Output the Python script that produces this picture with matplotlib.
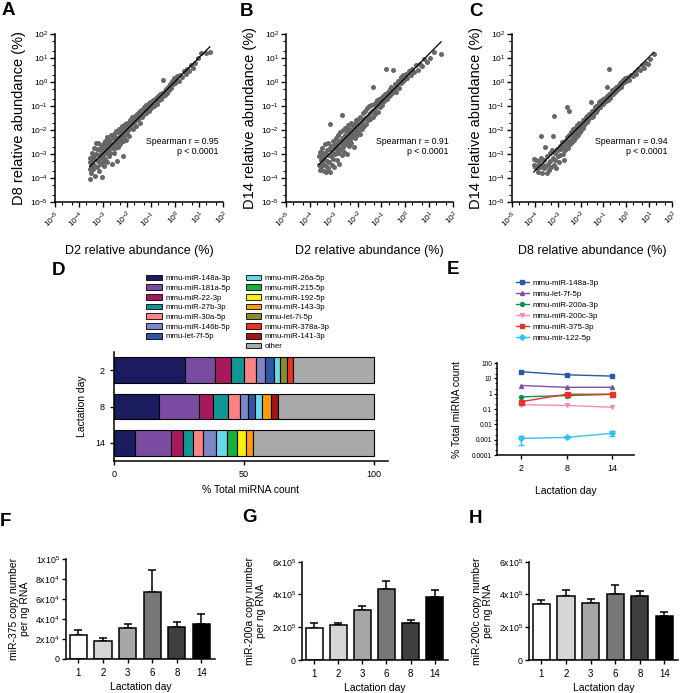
import numpy as np
import matplotlib
matplotlib.use("Agg")
import matplotlib.pyplot as plt
from matplotlib.patches import Patch
from matplotlib.lines import Line2D
from matplotlib.ticker import LogLocator, NullFormatter, FixedLocator

plt.rcParams['font.family'] = ['Liberation Sans', 'DejaVu Sans']
plt.rcParams['mathtext.default'] = 'regular'
plt.rcParams['axes.linewidth'] = 1.1

# ---------------------------------------------------------------
# DATA
# ---------------------------------------------------------------
decades = [-5, -4, -3, -2, -1, 0, 1, 2]

# scatter points as (log10 x, log10 y)
a_points = [
    (-3.55, -3.35), (-3.55, -3.62), (-3.55, -4.05), (-3.53, -3.15), (-3.5, -3.48), (-3.48, -3.8),
    (-3.46, -2.95), (-3.44, -3.3), (-3.42, -3.62), (-3.4, -3.1), (-3.38, -2.75), (-3.36, -3.45),
    (-3.34, -3.9), (-3.32, -3.2), (-3.3, -2.55), (-3.28, -3.0), (-3.26, -3.55), (-3.24, -2.8),
    (-3.22, -3.3), (-3.2, -2.55), (-3.18, -3.05), (-3.16, -3.7), (-3.14, -2.85), (-3.12, -3.4),
    (-3.1, -2.65), (-3.08, -3.15), (-3.06, -3.95), (-3.04, -2.9), (-3.02, -3.35), (-3.0, -2.6),
    (-2.98, -3.05), (-2.96, -2.8), (-2.94, -3.5), (-2.92, -2.45), (-2.9, -3.2), (-2.88, -2.7),
    (-2.86, -2.95), (-2.84, -2.3), (-2.82, -3.35), (-2.8, -2.6), (-2.78, -2.85), (-2.76, -3.1),
    (-2.74, -2.4), (-2.72, -2.7), (-2.7, -2.95), (-2.68, -2.2), (-2.66, -2.55), (-2.64, -3.4),
    (-2.62, -2.75), (-2.6, -2.35), (-2.58, -2.6), (-2.56, -2.95), (-2.54, -2.15), (-2.52, -2.5),
    (-2.5, -2.75), (-2.48, -2.3), (-2.46, -2.05), (-2.44, -2.55), (-2.42, -3.3), (-2.4, -2.35),
    (-2.38, -2.7), (-2.36, -2.1), (-2.34, -2.45), (-2.32, -1.95), (-2.3, -2.25), (-2.28, -2.6),
    (-2.26, -2.0), (-2.24, -2.35), (-2.22, -1.85), (-2.2, -2.15), (-2.18, -3.1), (-2.16, -2.45),
    (-2.14, -1.95), (-2.12, -2.25), (-2.1, -1.75), (-2.08, -2.05), (-2.06, -2.4), (-2.04, -1.85),
    (-2.02, -2.15), (-2.0, -1.7), (-1.97, -2.0), (-1.94, -1.8), (-1.91, -2.25), (-1.88, -1.6),
    (-1.85, -1.9), (-1.82, -1.7), (-1.79, -1.45), (-1.76, -1.95), (-1.73, -1.6), (-1.7, -1.75),
    (-1.67, -1.4), (-1.64, -1.6), (-1.61, -1.85), (-1.58, -1.35), (-1.55, -1.55), (-1.52, -1.25),
    (-1.49, -1.45), (-1.46, -1.7), (-1.43, -1.3), (-1.4, -1.15), (-1.37, -1.45), (-1.34, -1.25),
    (-1.31, -1.05), (-1.28, -1.35), (-1.25, -1.2), (-1.22, -0.95), (-1.19, -1.3), (-1.16, -1.1),
    (-1.13, -0.9), (-1.1, -1.2), (-1.07, -1.0), (-1.04, -0.85), (-1.01, -1.1), (-0.96, -0.95),
    (-0.92, -0.75), (-0.88, -1.0), (-0.84, -0.8), (-0.8, -0.65), (-0.76, -0.9), (-0.72, -0.6),
    (-0.68, -0.75), (-0.64, -0.5), (-0.6, -0.7), (-0.56, -0.45), (-0.52, -0.6), (-0.49, 0.1),
    (-0.46, -0.4), (-0.42, -0.55), (-0.38, -0.3), (-0.34, -0.45), (-0.3, -0.2), (-0.26, -0.35),
    (-0.22, -0.1), (-0.18, -0.25), (-0.14, 0.05), (-0.1, -0.1), (-0.06, 0.15), (-0.02, -0.05),
    (0.04, 0.1), (0.1, 0.25), (0.16, 0.05), (0.22, 0.3), (0.3, 0.2), (0.36, 0.45), (0.44, 0.35),
    (0.5, 0.55), (0.58, 0.45), (0.66, 0.7), (0.74, 0.6), (0.84, 0.8), (0.95, 1.0), (1.08, 1.2),
    (1.3, 1.2), (1.45, 1.25),
]

b_points = [
    (-3.62, -3.1), (-3.6, -3.45), (-3.58, -3.65), (-3.56, -2.9), (-3.54, -3.25), (-3.52, -3.55),
    (-3.5, -2.75), (-3.48, -3.1), (-3.46, -3.4), (-3.44, -2.95), (-3.42, -3.7), (-3.4, -3.2),
    (-3.38, -2.6), (-3.36, -3.0), (-3.34, -3.5), (-3.32, -3.75), (-3.3, -2.85), (-3.28, -3.3),
    (-3.26, -2.55), (-3.24, -3.05), (-3.22, -3.6), (-3.2, -2.8), (-3.18, -3.35), (-3.16, -1.75),
    (-3.14, -3.75), (-3.12, -2.65), (-3.1, -3.1), (-3.08, -3.45), (-3.06, -2.9), (-3.04, -2.45),
    (-3.02, -3.2), (-3.0, -2.75), (-2.98, -3.55), (-2.96, -2.6), (-2.94, -3.0), (-2.92, -2.35),
    (-2.9, -2.8), (-2.88, -3.25), (-2.86, -2.55), (-2.84, -2.95), (-2.82, -2.2), (-2.8, -2.7),
    (-2.78, -3.4), (-2.76, -2.45), (-2.74, -2.85), (-2.72, -2.1), (-2.7, -2.55), (-2.67, -1.36),
    (-2.66, -3.05), (-2.64, -2.35), (-2.62, -2.7), (-2.6, -2.0), (-2.58, -2.5), (-2.56, -2.9),
    (-2.54, -2.2), (-2.52, -1.9), (-2.5, -2.6), (-2.48, -2.35), (-2.46, -3.0), (-2.44, -2.05),
    (-2.42, -2.45), (-2.4, -1.8), (-2.38, -2.25), (-2.36, -2.65), (-2.34, -1.95), (-2.32, -2.4),
    (-2.3, -2.1), (-2.28, -1.7), (-2.26, -2.55), (-2.24, -2.0), (-2.22, -2.3), (-2.2, -1.85),
    (-2.18, -2.15), (-2.16, -2.7), (-2.14, -1.75), (-2.12, -2.05), (-2.1, -2.35), (-2.08, -1.6),
    (-2.06, -1.95), (-2.04, -2.2), (-2.02, -1.75), (-2.0, -2.05), (-1.97, -1.55), (-1.94, -1.85),
    (-1.91, -2.15), (-1.88, -1.45), (-1.85, -1.7), (-1.82, -1.95), (-1.79, -1.3), (-1.76, -1.6),
    (-1.73, -1.85), (-1.7, -1.2), (-1.67, -1.5), (-1.64, -1.75), (-1.61, -1.1), (-1.58, -1.4),
    (-1.55, -1.6), (-1.52, -1.0), (-1.49, -1.3), (-1.46, -1.55), (-1.43, -0.95), (-1.4, -1.2),
    (-1.37, -1.45), (-1.35, -0.2), (-1.33, -0.9), (-1.3, -1.15), (-1.27, -1.35), (-1.24, -0.85),
    (-1.21, -1.05), (-1.18, -0.75), (-1.15, -1.25), (-1.12, -0.95), (-1.09, -0.7), (-1.06, -1.05),
    (-1.03, -0.85), (-1.0, -0.65), (-0.96, -0.95), (-0.92, -0.6), (-0.88, -0.8), (-0.84, -0.5),
    (-0.8, 0.54), (-0.78, -0.7), (-0.74, -0.4), (-0.7, -0.6), (-0.66, -0.3), (-0.62, -0.55),
    (-0.58, -0.2), (-0.54, -0.45), (-0.51, 0.51), (-0.48, -0.3), (-0.44, -0.1), (-0.4, -0.4),
    (-0.36, -0.15), (-0.32, 0.05), (-0.28, -0.25), (-0.24, 0.1), (-0.2, -0.05), (-0.16, 0.2),
    (-0.12, 0.0), (-0.08, 0.3), (-0.04, 0.1), (0.02, 0.35), (0.08, 0.15), (0.15, 0.45),
    (0.22, 0.3), (0.3, 0.55), (0.38, 0.4), (0.45, 0.7), (0.52, 0.5), (0.6, 0.75), (0.7, 0.65),
    (0.8, 0.95), (0.92, 0.85), (1.05, 1.0), (1.2, 1.25), (1.5, 1.15),
]

c_points = [
    (-4.05, -3.2), (-4.02, -3.45), (-3.98, -3.55), (-3.95, -3.25), (-3.92, -3.6), (-3.88, -3.45),
    (-3.85, -3.75), (-3.82, -3.3), (-3.78, -3.55), (-3.75, -3.15), (-3.71, -2.26), (-3.7, -3.8),
    (-3.66, -3.45), (-3.62, -3.6), (-3.58, -3.25), (-3.54, -2.7), (-3.52, -3.5), (-3.48, -3.8),
    (-3.45, -3.1), (-3.42, -3.4), (-3.38, -3.65), (-3.35, -2.95), (-3.32, -3.3), (-3.28, -3.55),
    (-3.25, -2.85), (-3.22, -3.15), (-3.19, -2.26), (-3.18, -3.45), (-3.15, -1.4), (-3.14, -2.95),
    (-3.1, -3.25), (-3.06, -3.6), (-3.04, -2.8), (-3.0, -3.1), (-2.97, -2.85), (-2.94, -3.35),
    (-2.91, -2.65), (-2.88, -3.05), (-2.85, -2.8), (-2.82, -2.5), (-2.79, -3.0), (-2.76, -2.7),
    (-2.73, -3.25), (-2.7, -2.45), (-2.67, -2.85), (-2.64, -2.6), (-2.6, -1.04), (-2.6, -2.3),
    (-2.57, -2.75), (-2.54, -2.5), (-2.5, -1.22), (-2.5, -2.2), (-2.47, -2.6), (-2.44, -2.4),
    (-2.41, -2.1), (-2.38, -2.5), (-2.35, -2.25), (-2.32, -1.95), (-2.29, -2.4), (-2.26, -2.15),
    (-2.23, -1.9), (-2.2, -2.3), (-2.17, -2.05), (-2.14, -1.8), (-2.11, -2.2), (-2.08, -1.95),
    (-2.05, -1.7), (-2.02, -2.1), (-2.0, -1.85), (-1.97, -2.0), (-1.94, -1.75), (-1.91, -1.9),
    (-1.88, -1.6), (-1.85, -1.8), (-1.82, -1.55), (-1.79, -1.7), (-1.76, -1.45), (-1.73, -1.65),
    (-1.7, -1.4), (-1.67, -1.6), (-1.64, -1.35), (-1.61, -1.5), (-1.56, -0.83), (-1.55, -1.3),
    (-1.52, -1.45), (-1.49, -1.2), (-1.46, -1.4), (-1.43, -1.15), (-1.4, -1.3), (-1.37, -1.05),
    (-1.34, -1.25), (-1.31, -1.0), (-1.28, -1.15), (-1.25, -0.95), (-1.22, -1.1), (-1.19, -0.85),
    (-1.16, -1.05), (-1.13, -0.8), (-1.1, -0.95), (-1.07, -0.75), (-1.04, -0.9), (-1.01, -0.7),
    (-0.97, -0.85), (-0.93, -0.65), (-0.89, -0.8), (-0.86, -0.21), (-0.85, -0.6), (-0.81, -0.75),
    (-0.77, -0.5), (-0.76, 0.54), (-0.73, -0.65), (-0.69, -0.45), (-0.65, -0.55), (-0.61, -0.35),
    (-0.57, -0.5), (-0.53, -0.3), (-0.49, -0.4), (-0.45, -0.2), (-0.41, -0.35), (-0.37, -0.15),
    (-0.33, -0.25), (-0.29, -0.05), (-0.25, -0.2), (-0.21, 0.0), (-0.17, -0.1), (-0.13, 0.1),
    (-0.09, 0.0), (-0.05, 0.15), (0.0, 0.05), (0.06, 0.2), (0.12, 0.1), (0.2, 0.3), (0.28, 0.25),
    (0.36, 0.4), (0.44, 0.35), (0.52, 0.55), (0.6, 0.5), (0.68, 0.7), (0.76, 0.6), (0.85, 0.8),
    (0.95, 0.75), (1.05, 0.95), (1.2, 1.15),
]

# panel D: % of total miRNA count per lactation day (days 2, 8, 14)
d_days = ["2", "8", "14"]
d_mirs = ["mmu-miR-148a-3p", "mmu-miR-181a-5p", "mmu-miR-22-3p", "mmu-miR-27b-3p",
          "mmu-miR-30a-5p", "mmu-miR-146b-5p", "mmu-let-7f-5p", "mmu-miR-26a-5p",
          "mmu-miR-215-5p", "mmu-miR-192-5p", "mmu-miR-143-3p", "mmu-let-7i-5p",
          "mmu-miR-378a-3p", "mmu-miR-141-3p", "other"]
d_values = [
    [27.5, 17.3, 8.2],
    [11.2, 15.3, 13.6],
    [6.5, 5.6, 4.7],
    [4.7, 5.8, 4.0],
    [4.6, 4.5, 3.8],
    [3.7, 3.1, 5.0],
    [3.5, 2.7, 0.0],
    [2.3, 2.7, 4.2],
    [0.0, 0.0, 3.8],
    [0.0, 0.0, 3.5],
    [0.0, 3.5, 2.9],
    [2.6, 0.0, 0.0],
    [2.3, 0.0, 0.0],
    [0.0, 2.7, 0.0],
    [31.1, 36.8, 46.3],
]
d_colors = ['#1b1c5f', '#7a4ca1', '#a8195c', '#0f9893', '#ff8383', '#7c85c6', '#2a57a6',
            '#68d9ea', '#18b03c', '#f7ee12', '#ff9a0a', '#8c8c2c', '#ec3322', '#a3171a', '#a9a9a9']

# panel E
e_days = [2, 8, 14]
e_names = ["mmu-miR-148a-3p", "mmu-let-7f-5p", "mmu-miR-200a-3p",
           "mmu-miR-200c-3p", "mmu-miR-375-3p", "mmu-mir-122-5p"]
e_148a = [27, 17, 14]
e_let7f = [3.4, 2.6, 2.6]
e_200a = [0.62, 0.75, 0.9]
e_200c = [0.19, 0.17, 0.13]
e_375 = [0.3, 0.92, 0.92]
e_122 = [0.0012, 0.0014, 0.0026]
e_122_err_lo = [0.00075, 0.0002, 0.0009]
e_122_err_hi = [0.00045, 0.0002, 0.0012]
e_colors = ['#2b57a7', '#7f4fa1', '#0f8f50', '#f28cc2', '#e8332a', '#2fc3ef']
e_markers = ['s', '^', 'o', 'v', 's', 'D']

# panels F, G, H: copy number per ng RNA
bar_days = ["1", "2", "3", "6", "8", "14"]
bar_colors = ['#ffffff', '#d6d6d6', '#a6a6a6', '#777777', '#3f3f3f', '#000000']
f_mean = [24000, 18300, 31000, 66700, 32000, 35000]
f_err = [4700, 2400, 4300, 22300, 4700, 10000]
g_mean = [197000, 213000, 303000, 431000, 226000, 386000]
g_err = [30000, 15000, 24000, 53000, 16000, 39000]
h_mean = [342000, 392000, 350000, 401000, 392000, 270000]
h_err = [24000, 35000, 22000, 59000, 29000, 23000]

# ---------------------------------------------------------------
# FIGURE
# ---------------------------------------------------------------
W, H = 683.0, 693.0
fig = plt.figure(figsize=(W / 100, H / 100), dpi=100)


def rect(x0, y0, x1, y1):
    # pixel box (top-left origin) -> figure fraction
    return [x0 / W, 1 - y1 / H, (x1 - x0) / W, (y1 - y0) / H]


def panel_letter(x, y, s):
    fig.text(x / W, 1 - y / H, s, fontsize=13.5, fontweight='bold', va='top', ha='left')


def scatter_panel(box, pts, xlabel, ylabel, r_text):
    ax = fig.add_axes(box)
    lx = np.array([p[0] for p in pts])
    ly = np.array([p[1] for p in pts])
    ax.scatter(10 ** lx, 10 ** ly, s=13, color='#676767', linewidths=0, zorder=2)
    k, b = np.polyfit(lx, ly, 1)
    xs = np.array([lx.min(), lx.max()])
    ax.plot(10 ** xs, 10 ** (k * xs + b), color='black', lw=0.9, zorder=3)
    ax.set_xscale('log')
    ax.set_yscale('log')
    ax.set_xlim(10.0 ** decades[0], 10.0 ** decades[-1])
    ax.set_ylim(10.0 ** decades[0], 10.0 ** decades[-1])
    ticks = [10.0 ** d for d in decades]
    labels = ['$10^{%d}$' % d for d in decades]
    ax.xaxis.set_major_locator(FixedLocator(ticks))
    ax.yaxis.set_major_locator(FixedLocator(ticks))
    ax.set_xticklabels(labels, rotation=45, ha='right', rotation_mode='anchor')
    ax.set_yticklabels(labels)
    for axis in (ax.xaxis, ax.yaxis):
        axis.set_minor_locator(LogLocator(base=10, subs=(2, 5), numticks=20))
        axis.set_minor_formatter(NullFormatter())
    ax.tick_params(which='major', labelsize=6, length=3.5, width=1.0, pad=1.5)
    ax.tick_params(which='minor', length=2, width=0.8)
    ax.spines['top'].set_visible(False)
    ax.spines['right'].set_visible(False)
    ax.set_xlabel(xlabel, fontsize=9, labelpad=11)
    ax.set_ylabel(ylabel, fontsize=10.5, labelpad=3)
    ax.text(0.975, 0.33, r_text, transform=ax.transAxes, ha='right', va='center',
            fontsize=6.3, linespacing=1.25)
    return ax


scatter_panel(rect(55, 34, 223, 202), a_points, "D2 relative abundance (%)",
              "D8 relative abundance (%)", "Spearman r = 0.95\np < 0.0001")
scatter_panel(rect(286, 34, 453, 202), b_points, "D2 relative abundance (%)",
              "D14 relative abundance (%)", "Spearman r = 0.91\np < 0.0001")
scatter_panel(rect(512, 34, 672, 202), c_points, "D8 relative abundance (%)",
              "D14 relative abundance (%)", "Spearman r = 0.94\np < 0.0001")

# ---- D: stacked bars ----
axd = fig.add_axes(rect(114, 352, 388, 461))
ypos = np.arange(len(d_days))
left = np.zeros(len(d_days))
for name, vals, col in zip(d_mirs, d_values, d_colors):
    vals = np.array(vals)
    keep = vals > 0
    axd.barh(ypos[keep], vals[keep], left=left[keep], height=0.7, color=col,
             edgecolor='black', linewidth=0.8)
    left = left + vals
axd.set_ylim(2.5, -0.5)
axd.set_xlim(0, 105.5)
axd.set_yticks(ypos)
axd.set_yticklabels(d_days)
axd.set_xticks([0, 50, 100])
axd.tick_params(labelsize=6.5, length=3, width=1.0)
axd.spines['top'].set_visible(False)
axd.spines['right'].set_visible(False)
axd.set_xlabel("% Total miRNA count", fontsize=7.5, labelpad=4)
axd.set_ylabel("Lactation day", fontsize=7.5, labelpad=6)

d_handles = [Patch(facecolor=c, edgecolor='black', linewidth=0.6, label=n)
             for n, c in zip(d_mirs, d_colors)]
# 7 entries in the first column, 8 in the second
d_handles = d_handles[:7] + [Patch(facecolor='none', edgecolor='none', label='')] + d_handles[7:]
fig.legend(handles=d_handles, loc='upper left', bbox_to_anchor=(146 / W, 1 - 274.5 / H),
           ncol=2, frameon=False, fontsize=5.6, handlelength=2.0, handleheight=0.75,
           handletextpad=0.45, columnspacing=2.0, labelspacing=0.28, borderpad=0,
           borderaxespad=0)

# ---- E: log lines ----
axe = fig.add_axes(rect(497, 363, 634, 455))
e_series = [e_148a, e_let7f, e_200a, e_200c, e_375, e_122]
for vals, name, col, mk in zip(e_series, e_names, e_colors, e_markers):
    ms = 3.6 if name == "mmu-miR-375-3p" else 2.8
    axe.plot(e_days, vals, color=col, marker=mk, ms=ms, lw=1.0, label=name)
axe.errorbar(e_days, e_122, yerr=[e_122_err_lo, e_122_err_hi], fmt='none',
             ecolor=e_colors[5], elinewidth=1.0, capsize=2)
axe.set_yscale('log')
axe.set_ylim(1e-4, 100)
axe.set_xlim(-1.2, 16.9)
axe.set_xticks(e_days)
axe.yaxis.set_major_locator(FixedLocator([1e-4, 1e-3, 1e-2, 0.1, 1, 10, 100]))
axe.set_yticklabels(['0.0001', '0.001', '0.01', '0.1', '1', '10', '100'])
axe.yaxis.set_minor_locator(LogLocator(base=10, subs=(2, 5), numticks=20))
axe.yaxis.set_minor_formatter(NullFormatter())
axe.tick_params(axis='y', which='major', labelsize=4.8, length=2.5, width=0.9, pad=1)
axe.tick_params(axis='y', which='minor', length=1.5, width=0.7)
axe.tick_params(axis='x', labelsize=6.5, length=3, width=1.0)
axe.spines['top'].set_visible(False)
axe.spines['right'].set_visible(False)
axe.set_xlabel("Lactation day", fontsize=7.5, labelpad=9)
axe.set_ylabel("% Total miRNA count", fontsize=7.5, labelpad=7)
e_handles = [Line2D([], [], color=c, marker=m, ms=2.8, lw=1.0, label=n)
             for n, c, m in zip(e_names, e_colors, e_markers)]
fig.legend(handles=e_handles, loc='upper left', bbox_to_anchor=(516 / W, 1 - 279 / H),
           frameon=False, fontsize=5.8, handlelength=1.6, handletextpad=0.5,
           labelspacing=0.42, borderpad=0, borderaxespad=0)


# ---- F, G, H: bars with SEM ----
def bar_panel(box, means, errs, ymax, yticks, yticklabels, ylabel):
    ax = fig.add_axes(box)
    x = np.arange(len(bar_days))
    ax.errorbar(x, means, yerr=[np.zeros(len(means)), errs], fmt='none', ecolor='black',
                elinewidth=1.1, capsize=3.2, capthick=1.1, zorder=1)
    ax.bar(x, means, width=0.7, color=bar_colors, edgecolor='black', linewidth=1.1, zorder=2)
    ax.set_xlim(-0.5, len(bar_days) - 0.45)
    ax.set_ylim(0, ymax)
    ax.set_xticks(x)
    ax.set_xticklabels(bar_days)
    ax.set_yticks(yticks)
    ax.set_yticklabels(yticklabels)
    ax.tick_params(axis='y', labelsize=6.3, length=3, width=1.0, pad=1.5)
    ax.tick_params(axis='x', labelsize=7, length=3, width=1.0)
    ax.spines['top'].set_visible(False)
    ax.spines['right'].set_visible(False)
    ax.set_xlabel("Lactation day", fontsize=7.5, labelpad=3)
    ax.set_ylabel(ylabel, fontsize=7.5, labelpad=4, linespacing=1.1)
    return ax


bar_panel(rect(66, 559, 215, 659), f_mean, f_err, 100000,
          [0, 20000, 40000, 60000, 80000, 100000],
          ['0', '2x10$^4$', '4x10$^4$', '6x10$^4$', '8x10$^4$', '1x10$^5$'],
          "miR-375 copy number\nper ng RNA")
bar_panel(rect(302, 561.7, 448, 660), g_mean, g_err, 600000,
          [0, 200000, 400000, 600000],
          ['0', '2x10$^5$', '4x10$^5$', '6x10$^5$'],
          "miR-200a copy number\nper ng RNA")
bar_panel(rect(529, 561.7, 678, 660), h_mean, h_err, 600000,
          [0, 200000, 400000, 600000],
          ['0', '2x10$^5$', '4x10$^5$', '6x10$^5$'],
          "miR-200c copy number\nper ng RNA")

# panel letters
panel_letter(2, 2, "A")
panel_letter(240, 3, "B")
panel_letter(469, 3, "C")
panel_letter(52, 262, "D")
panel_letter(447, 261, "E")
panel_letter(0, 513, "F")
panel_letter(242, 509, "G")
panel_letter(469, 510, "H")

fig.savefig("out.png", dpi=100)
